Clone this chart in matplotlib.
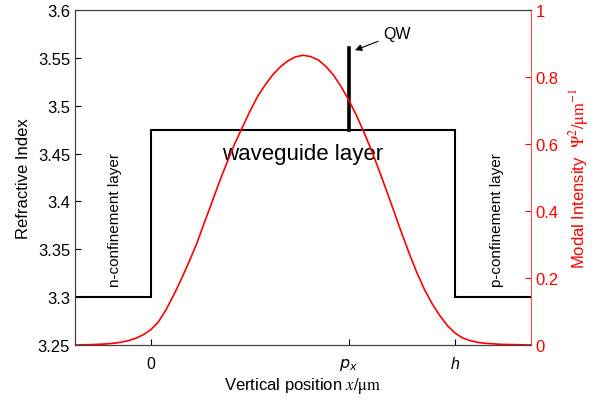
import matplotlib
matplotlib.use("Agg")
import matplotlib.pyplot as plt
from matplotlib.ticker import FormatStrFormatter

plt.rcParams["font.family"] = ["Liberation Sans", "DejaVu Sans"]

# layer structure (x in units of waveguide thickness h)
layer_edges = [-0.25, 0.0, 1.0, 1.25]
layer_index = [3.3, 3.475, 3.3]
qw_pos = 0.651
qw_index = [3.475, 3.56]

# modal intensity
mode_x = [-0.25, -0.2, -0.15, -0.125, -0.1, -0.075, -0.05, -0.025,
          0.0, 0.025, 0.05, 0.075, 0.1, 0.125, 0.15, 0.175, 0.2, 0.225,
          0.25, 0.275, 0.3, 0.325, 0.35, 0.375, 0.4, 0.425, 0.45, 0.475,
          0.5, 0.525, 0.55, 0.575, 0.6, 0.625, 0.65, 0.675, 0.7, 0.725,
          0.75, 0.775, 0.8, 0.825, 0.85, 0.875, 0.9, 0.925, 0.95, 0.975,
          1.0, 1.025, 1.05, 1.075, 1.1, 1.15, 1.2, 1.25]
mode_I = [0.0, 0.001, 0.003, 0.005, 0.008, 0.013, 0.02, 0.031,
          0.046, 0.07, 0.106, 0.15, 0.197, 0.248, 0.302, 0.364, 0.425, 0.487,
          0.545, 0.6, 0.649, 0.697, 0.741, 0.776, 0.806, 0.83, 0.848, 0.86,
          0.865, 0.861, 0.851, 0.832, 0.806, 0.772, 0.732, 0.687, 0.636, 0.582,
          0.522, 0.46, 0.397, 0.333, 0.272, 0.215, 0.165, 0.123, 0.088, 0.058,
          0.036, 0.021, 0.013, 0.008, 0.005, 0.002, 0.001, 0.0]

xtick_pos = [0.0, qw_pos, 1.0]
xtick_labels = ["0", "$p_x$", "h"]

fig = plt.figure(figsize=(6.06, 4.02), dpi=100)
ax = fig.add_axes([0.1238, 0.1393, 0.7524, 0.8333])
ax2 = ax.twinx()

gray = "#404040"
ax.stairs(layer_index, layer_edges, baseline=None, color="k", lw=1.5, zorder=3)
ax.plot([qw_pos, qw_pos], qw_index, color="k", lw=2.6, zorder=3)
ax2.plot(mode_x, mode_I, color="red", lw=1.2)

ax.set_xlim(-0.25, 1.25)
ax.set_ylim(3.25, 3.6)
ax2.set_ylim(0, 1)

ax.set_yticks([3.25, 3.3, 3.35, 3.4, 3.45, 3.5, 3.55, 3.6])
ax.yaxis.set_major_formatter(FormatStrFormatter("%g"))
ax2.set_yticks([0, 0.2, 0.4, 0.6, 0.8, 1.0])
ax2.yaxis.set_major_formatter(FormatStrFormatter("%g"))
ax.set_xticks(xtick_pos)
ax.set_xticklabels(xtick_labels, fontsize=11.5)
ax.get_xticklabels()[2].set_fontstyle("italic")

ax.tick_params(axis="both", direction="in", length=4, labelsize=12, colors="k")
ax.tick_params(axis="x", pad=8, labelsize=11.5)
ax2.tick_params(axis="y", direction="in", length=4, labelsize=12,
                colors="red")
for side in ["left", "top", "bottom"]:
    ax.spines[side].set_color(gray)
    ax2.spines[side].set_color(gray)
ax2.spines["right"].set_color("#ff5050")
ax.spines["right"].set_visible(False)

ax.set_ylabel("Refractive Index", fontsize=12, labelpad=5)
ax.set_xlabel(r"Vertical position $x/\mathrm{\mu m}$", fontsize=12,
              math_fontfamily="stix", labelpad=2)
ax2.set_ylabel(r"Modal Intensity  $\mathit{\Psi}^2/\mathrm{\mu m}^{-1}$",
               fontsize=12, color="red", math_fontfamily="stix", labelpad=6)

ax.text(-0.118, 3.382, "n-confinement layer", rotation=90, ha="center",
        va="center", fontsize=11)
ax.text(1.138, 3.382, "p-confinement layer", rotation=90, ha="center",
        va="center", fontsize=11)
ax.text(0.5, 3.45, "waveguide layer", ha="center", va="center", fontsize=16)
ax.annotate("QW", xy=(0.671, 3.558), xytext=(0.81, 3.575), ha="center",
            va="center", fontsize=11.5,
            arrowprops=dict(arrowstyle="-|>", color="k", lw=0.8,
                            shrinkA=2, shrinkB=0, mutation_scale=10))

fig.savefig("out.png", dpi=100)
